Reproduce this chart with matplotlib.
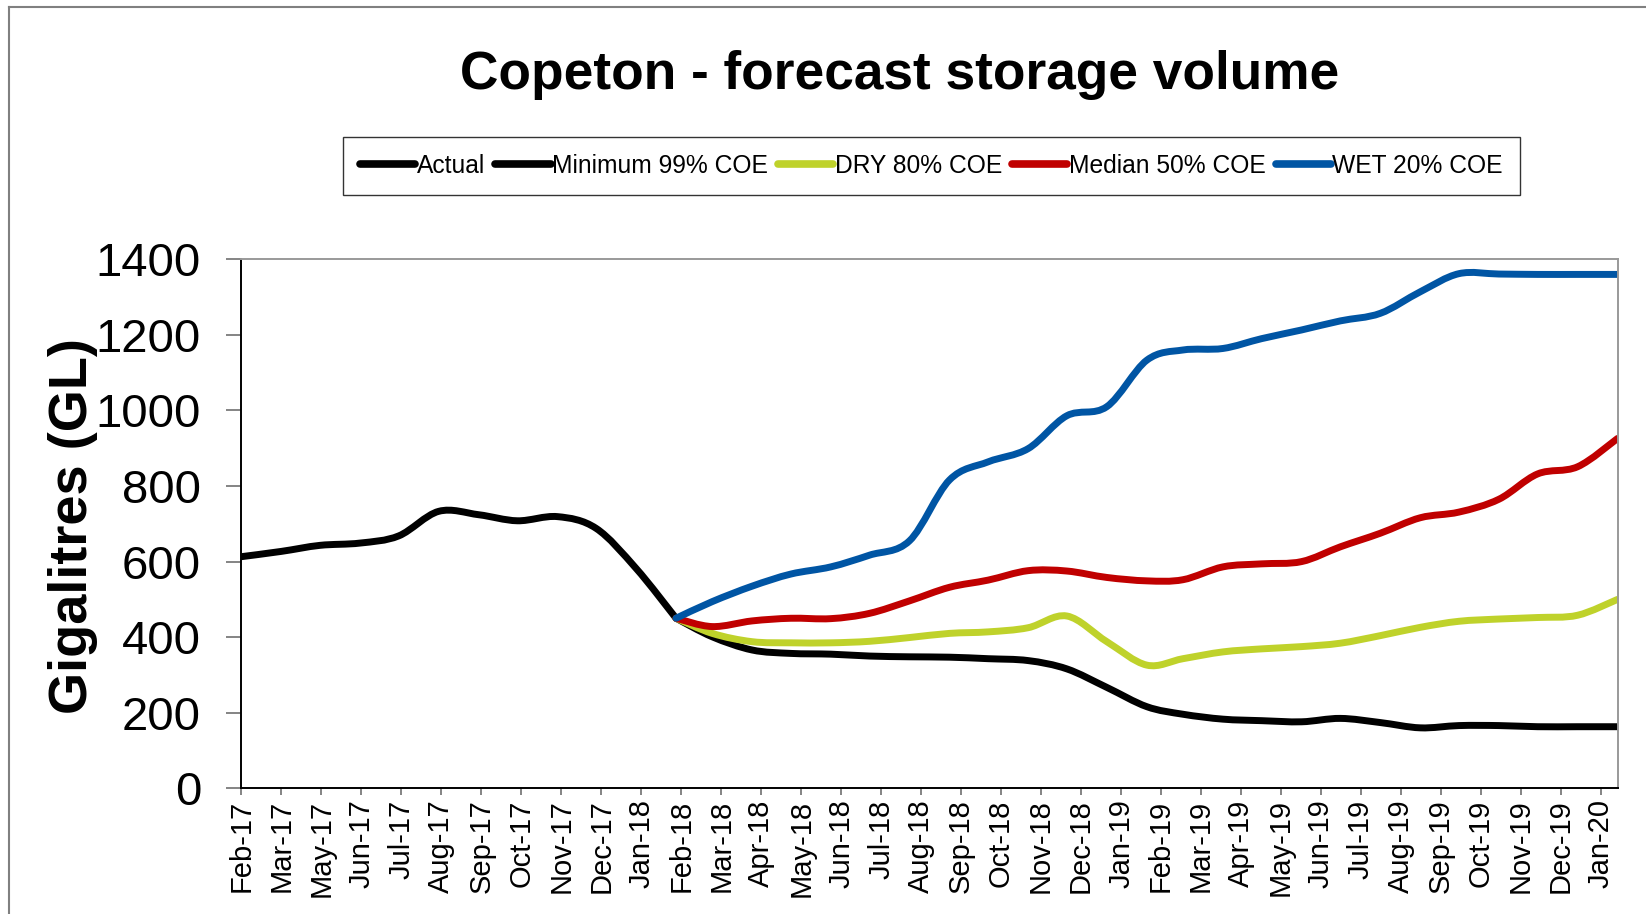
import numpy as np
import pandas as pd
import matplotlib
matplotlib.use("Agg")
import matplotlib.pyplot as plt
import matplotlib.dates as mdates
from matplotlib.path import Path
from matplotlib.patches import PathPatch
from matplotlib.lines import Line2D

plt.rcParams['font.family'] = ['Liberation Sans', 'DejaVu Sans']

# ---------------- data ----------------
title = "Copeton - forecast storage volume"
ylabel = "Gigalitres (GL)"

actual_dates = pd.date_range("2017-02-28", "2018-01-31", freq="ME")
actual = [613, 627, 643, 649, 668, 733, 724, 708, 719, 688, 582, 450]

forecast_dates = pd.date_range("2018-01-31", "2020-01-31", freq="ME")
minimum_99 = [450, 401, 366, 357, 355, 350, 348, 347, 343, 338, 316, 267, 216,
              196, 183, 179, 176, 185, 174, 160, 166, 166, 163, 163, 163]
dry_80 = [450, 410, 388, 385, 385, 389, 399, 410, 414, 425, 456, 388, 326,
          343, 361, 369, 375, 384, 404, 426, 442, 448, 452, 458, 500]
median_50 = [450, 428, 443, 450, 449, 463, 496, 532, 551, 576, 575, 558, 549,
             552, 586, 594, 600, 639, 675, 716, 731, 765, 832, 851, 926]
wet_20 = [450, 494, 535, 567, 586, 617, 655, 816, 864, 899, 986, 1010, 1133,
          1160, 1164, 1190, 1213, 1237, 1257, 1314, 1362, 1361, 1360, 1360, 1360]

series_names = ["Actual", "Minimum 99% COE", "DRY 80% COE", "Median 50% COE", "WET 20% COE"]
series_colors = ["#000000", "#000000", "#BFD22B", "#C00000", "#0055A4"]

tick_labels = ["Feb-17", "Mar-17", "May-17", "Jun-17", "Jul-17", "Aug-17", "Sep-17",
               "Oct-17", "Nov-17", "Dec-17", "Jan-18", "Feb-18", "Mar-18", "Apr-18",
               "May-18", "Jun-18", "Jul-18", "Aug-18", "Sep-18", "Oct-18", "Nov-18",
               "Dec-18", "Jan-19", "Feb-19", "Mar-19", "Apr-19", "May-19", "Jun-19",
               "Jul-19", "Aug-19", "Sep-19", "Oct-19", "Nov-19", "Dec-19", "Jan-20"]
y_ticks = [0, 200, 400, 600, 800, 1000, 1200, 1400]


def smooth_path(xs, ys):
    pts = np.column_stack([np.asarray(xs, float), np.asarray(ys, float)])
    n = len(pts)
    verts = [pts[0]]
    codes = [Path.MOVETO]
    for i in range(n - 1):
        p0 = pts[i - 1] if i > 0 else pts[i]
        p1 = pts[i]
        p2 = pts[i + 1]
        p3 = pts[i + 2] if i + 2 < n else pts[i + 1]
        verts += [p1 + (p2 - p0) / 6.0, p2 - (p3 - p1) / 6.0, p2]
        codes += [Path.CURVE4] * 3
    return Path(verts, codes)


W, H = 1646, 914
fig = plt.figure(figsize=(W / 100, H / 100), dpi=100)
ax = fig.add_axes([241.4 / W, 1 - 788.3 / H, (1617.6 - 241.4) / W, (788.3 - 259.3) / H])

LW = 5.0
data = [(actual_dates, actual), (forecast_dates, minimum_99), (forecast_dates, dry_80),
        (forecast_dates, median_50), (forecast_dates, wet_20)]
for (d, v), c in zip(data, series_colors):
    xs = mdates.date2num(d.to_pydatetime())
    ax.add_patch(PathPatch(smooth_path(xs, v), facecolor='none', edgecolor=c, lw=LW,
                           capstyle='round', joinstyle='round'))

start = pd.Timestamp("2017-02-28")
tick_dates = [start + pd.Timedelta(days=31 * k) for k in range(len(tick_labels))]
ax.set_xlim(mdates.date2num(start.to_pydatetime()),
            mdates.date2num(pd.Timestamp("2020-01-31").to_pydatetime()))
ax.set_xticks(mdates.date2num([t.to_pydatetime() for t in tick_dates]))
ax.set_xticklabels(tick_labels, rotation=90, fontsize=21)
ax.set_ylim(0, 1400)
ax.set_yticks(y_ticks)
ax.set_yticklabels([str(t) for t in y_ticks], fontsize=34)

ax.tick_params(axis='y', direction='out', length=11, width=1.2, color='#707070', pad=18)
ax.tick_params(axis='x', direction='out', length=5, width=1.2, color='#707070', pad=3)

for s in ['left', 'bottom']:
    ax.spines[s].set_color('black')
    ax.spines[s].set_linewidth(1.4)
for s in ['top', 'right']:
    ax.spines[s].set_color('#999999')
    ax.spines[s].set_linewidth(1.4)

fig.text(900 / W, 1 - 89 / H, title, ha='center', va='baseline', fontsize=38.3, fontweight='bold')
fig.text(73.5 / W, 1 - 526 / H, ylabel, ha='center', va='center', rotation=90,
         fontsize=39, fontweight='bold')

handles = [Line2D([], [], color=c, lw=5.5, solid_capstyle='round') for c in series_colors]
leg = fig.legend(handles, series_names, loc='center', bbox_to_anchor=(931.5 / W, 1 - 166 / H),
                 ncol=5, fontsize=17.7, handlelength=2.25, handletextpad=0.05,
                 columnspacing=0.42, borderpad=0.7, fancybox=False, frameon=True)
leg.get_frame().set_edgecolor('black')
leg.get_frame().set_linewidth(1.0)

# chart border
fig.add_artist(Line2D([9 / W, 9 / W], [0, 1 - 7 / H], transform=fig.transFigure, color='#808080', lw=1.5))
fig.add_artist(Line2D([9 / W, 1], [1 - 7 / H, 1 - 7 / H], transform=fig.transFigure, color='#808080', lw=1.5))

fig.savefig("out.png", dpi=100)
